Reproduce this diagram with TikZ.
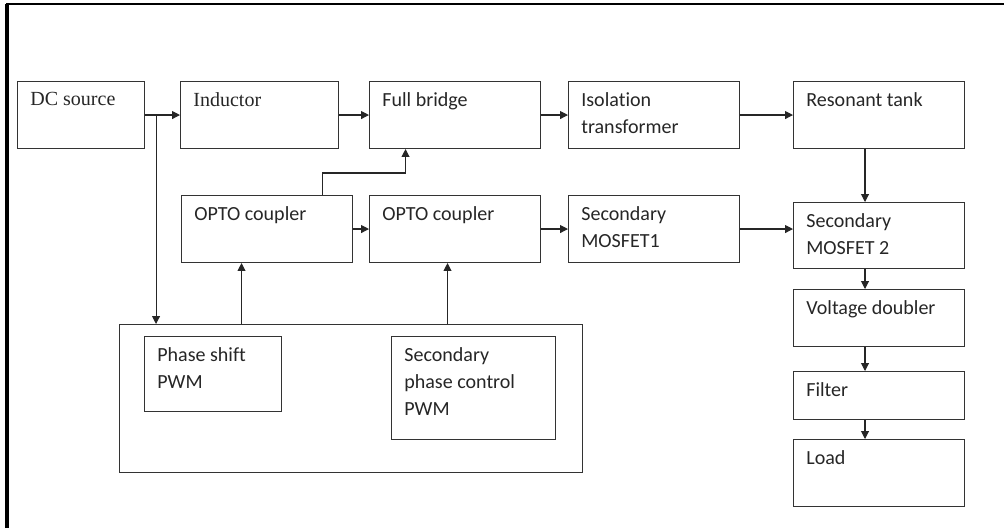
\documentclass[tikz,border=0pt]{standalone}
\usepackage{fontspec}
\setmainfont{Carlito}[Ligatures=CommonOff]
\newfontfamily\cambfont{Liberation Serif}
\usetikzlibrary{arrows.meta}
\tikzset{
  blk/.style 2 args={draw=black!80, line width=0.6pt, rectangle, inner sep=0pt,
    anchor=north west, minimum width=#1cm, minimum height=#2cm},
  txt/.style={inner sep=0pt, anchor=north west, align=left, text=black!85,
    font=\fontsize{11.4}{15.4}\selectfont},
  arr/.style={-{Triangle[length=4.5pt,width=4.5pt]}, line width=0.6pt, draw=black!85}
}
\begin{document}
\begin{tikzpicture}[x=0.02cm,y=-0.02cm]
\useasboundingbox (0,0) rectangle (1004,528);
% outer frame
\draw[line width=1.8pt] (7,528) -- (7,4);
\draw[line width=1pt] (6,4) -- (1004,4);

% power path
\node[blk={2.54}{1.34}] (dc) at (17,81) {};
\node[blk={3.16}{1.34}] (ind) at (180,81) {};
\node[blk={3.42}{1.34}] (fb) at (369,81) {};
\node[blk={3.42}{1.34}] (iso) at (568,81) {};
\node[blk={3.42}{1.34}] (res) at (793,81) {};
% drive row
\node[blk={3.42}{1.34}] (optoa) at (181,195) {};
\node[blk={3.42}{1.34}] (optob) at (369,195) {};
\node[blk={3.42}{1.34}] (mosa) at (568,195) {};
% output column
\node[blk={3.42}{1.32}] (mosb) at (793,202) {};
\node[blk={3.42}{1.14}] (vd) at (793,289) {};
\node[blk={3.42}{0.96}] (flt) at (793,371) {};
\node[blk={3.42}{1.34}] (load) at (793,439) {};
% controller
\node[blk={9.26}{2.96}] (ctrl) at (119,324) {};
\node[blk={2.74}{1.50}] (psp) at (144,336) {};
\node[blk={3.28}{2.06}] (spc) at (391,336) {};

% texts
\foreach \n in {dc,ind,fb,iso,res,optoa,optob,mosa,mosb,vd,flt,load,psp,spc}
  \coordinate (\n-c) at ([xshift=0.26cm,yshift=-0.22cm]\n.north west);
\node[txt] (dc-t) at (dc-c) {\cambfont DC source};
\node[txt] (ind-t) at (ind-c) {\cambfont Inductor};
\node[txt] (fb-t) at (fb-c) {Full bridge};
\node[txt] (iso-t) at (iso-c) {Isolation\\transformer};
\node[txt] (res-t) at (res-c) {Resonant tank};
\node[txt] (optoa-t) at (optoa-c) {OPTO coupler};
\node[txt] (optob-t) at (optob-c) {OPTO coupler};
\node[txt] (mosa-t) at (mosa-c) {Secondary\\MOSFET1};
\node[txt] (mosb-t) at (mosb-c) {Secondary\\MOSFET 2};
\node[txt] (vd-t) at (vd-c) {Voltage doubler};
\node[txt] (flt-t) at (flt-c) {Filter};
\node[txt] (load-t) at (load-c) {Load};
\node[txt] (psp-t) at (psp-c) {Phase shift\\PWM};
\node[txt] (spc-t) at (spc-c) {Secondary\\phase control\\PWM};

% top chain
\draw[arr] (dc.east) -- (ind.west);
\draw[arr] (ind.east) -- (fb.west);
\draw[arr] (fb.east) -- (iso.west);
\draw[arr] (iso.east) -- (res.west);

% right column
\coordinate (col) at (865,0);
\draw[arr] (res.south -| col) -- (mosb.north -| col);
\draw[arr] (mosb.south -| col) -- (vd.north -| col);
\draw[arr] (vd.south -| col) -- (flt.north -| col);
\draw[arr] (flt.south -| col) -- (load.north -| col);

% middle row
\draw[arr] (optoa.east) -- (optob.west);
\draw[arr] (optob.east) -- (mosa.west);
\draw[arr] (mosa.east) -- (mosa.east -| mosb.west);
\coordinate (fbin) at ([xshift=-0.99cm]fb.south);
\draw[arr] ([xshift=1.11cm]optoa.north) -- ++(0,0.44cm) -| (fbin);

% control board
\coordinate (tap) at ([xshift=0.22cm]dc.east);
\draw[arr] (tap) -- (tap |- ctrl.north);
\coordinate (ga) at ([xshift=-0.51cm]optoa.south);
\coordinate (gb) at ([xshift=-0.15cm]optob.south);
\draw[arr] (ga |- ctrl.north) -- (ga);
\draw[arr] (gb |- ctrl.north) -- (gb);
\end{tikzpicture}
\end{document}
